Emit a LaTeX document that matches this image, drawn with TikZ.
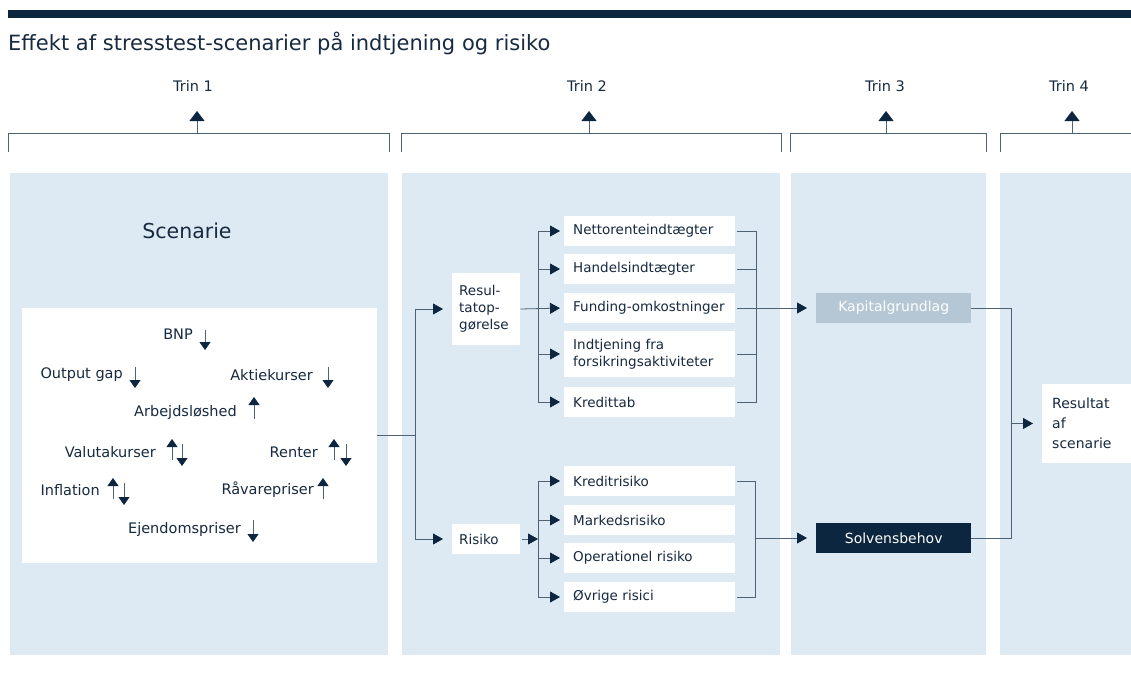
\documentclass[tikz,border=0pt]{standalone}
\usepackage{fontspec}
\setmainfont{DejaVu Sans}
\usetikzlibrary{arrows.meta}
\definecolor{navy}{HTML}{0C2640}
\definecolor{txt}{HTML}{172A40}
\definecolor{panel}{HTML}{DEEAF3}
\definecolor{linec}{HTML}{4E6276}
\definecolor{kapc}{HTML}{B5C7D5}
\begin{document}
\begin{tikzpicture}[x=1pt,y=-1pt,
  line/.style={draw=linec, line width=0.8pt},
  arr/.style={line, -{Triangle[length=10pt,width=11pt,color=navy]}},
  trinarr/.style={line, -{Triangle[length=10pt,width=15pt,color=navy]}},
  glyph/.style={line, -{Triangle[length=8pt,width=11pt,color=navy]}},
  lbl/.style={font=\fontsize{14.5}{17}\selectfont, text=txt, inner sep=0},
  sitem/.style={font=\fontsize{14.5}{17}\selectfont, text=txt, inner sep=0, anchor=east},
  box/.style={fill=white, font=\fontsize{13.5}{17}\selectfont, text=txt, inner ysep=0, inner xsep=9pt, minimum height=30pt, align=left, anchor=west},
  ibox/.style={box, text width=153pt},
  sbox/.style={box, inner xsep=7pt, text width=54pt},
  dbox/.style={fill=#1, font=\fontsize{14}{17}\selectfont, text=white, inner sep=0, minimum width=155pt, minimum height=30pt, anchor=west},
  panelbox/.style={fill=panel, draw=none},
  bracket/.style={line}
]
\useasboundingbox (0,0) rectangle (1131,690);
\fill[navy] (8,10) rectangle (1131,18);
\node[anchor=west, font=\fontsize{21}{25}\selectfont, text=txt, inner sep=0] (title) at (8,43) {Effekt af stresstest-scenarier på indtjening og risiko};

% step labels
\node[lbl] (t1) at (193,86) {Trin 1};
\node[lbl] (t2) at (587,86) {Trin 2};
\node[lbl] (t3) at (885,86) {Trin 3};
\node[lbl] (t4) at (1069,86) {Trin 4};

% brackets
\draw[bracket] (8,152) -- (8,133) -- (389,133) -- (389,152);
\draw[bracket] (401,152) -- (401,133) -- (781,133) -- (781,152);
\draw[bracket] (790,152) -- (790,133) -- (986,133) -- (986,152);
\draw[bracket] (1000,152) -- (1000,133) -- (1131,133);
\coordinate (b1) at (197,133);
\coordinate (b2) at (589,133);
\coordinate (b3) at (886,133);
\coordinate (b4) at (1072,133);
\draw[trinarr] (b1) -- ++(0,-22);
\draw[trinarr] (b2) -- ++(0,-22);
\draw[trinarr] (b3) -- ++(0,-22);
\draw[trinarr] (b4) -- ++(0,-22);

% panels
\fill[panelbox] (10,173) rectangle (388,655);
\fill[panelbox] (402,173) rectangle (780,655);
\fill[panelbox] (791,173) rectangle (986,655);
\fill[panelbox] (1000,173) rectangle (1131,655);

% scenario
\node[font=\fontsize{20.5}{24}\selectfont, text=txt, inner sep=0] (scentitle) at (187,231) {Scenarie};
\node[fill=white, minimum width=355pt, minimum height=255pt, inner sep=0] (scen) at (199.5,435.5) {};

\node[sitem] (bnp) at (193,334) {BNP};
\node[sitem] (og) at (123,375) {Output gap};
\node[sitem] (ak) at (313,375) {Aktiekurser};
\node[sitem] (arb) at (237,412) {Arbejdsløshed};
\node[sitem] (val) at (156,452) {Valutakurser};
\node[sitem] (ren) at (318,452) {Renter};
\node[sitem] (inf) at (100,490) {Inflation};
\node[sitem] (rav) at (314,490) {Råvarepriser};
\node[sitem] (ejd) at (241,529) {Ejendomspriser};

% up / down glyphs
\draw[glyph] (205,330) -- (205,350);
\draw[glyph] (135,367) -- (135,388);
\draw[glyph] (328,367) -- (328,388);
\draw[glyph] (254,419) -- (254,397);
\draw[glyph] (172,460) -- (172,439);
\draw[glyph] (182,444) -- (182,466);
\draw[glyph] (334,460) -- (334,439);
\draw[glyph] (346,444) -- (346,466);
\draw[glyph] (113,499) -- (113,478);
\draw[glyph] (124,483) -- (124,505);
\draw[glyph] (323,499) -- (323,478);
\draw[glyph] (253,520) -- (253,542);

% step 2 boxes
\node[sbox, minimum height=72pt] (res) at (452,309) {Resul-\\tatop-\\gørelse};
\node[sbox] (ris) at (452,539) {Risiko};

\node[ibox] (i1) at (564,231) {Nettorenteindtægter};
\node[ibox] (i2) at (564,269) {Handelsindtægter};
\node[ibox] (i3) at (564,308) {Funding-omkostninger};
\node[ibox, minimum height=46pt] (i4) at (564,354) {Indtjening fra\\forsikringsaktiviteter};
\node[ibox] (i5) at (564,402) {Kredittab};

\node[ibox] (r1) at (564,481) {Kreditrisiko};
\node[ibox] (r2) at (564,520) {Markedsrisiko};
\node[ibox] (r3) at (564,558) {Operationel risiko};
\node[ibox] (r4) at (564,597) {Øvrige risici};

% step 3 boxes
\node[dbox=kapc] (kap) at (816,308) {Kapitalgrundlag};
\node[dbox=navy] (solv) at (816,538) {Solvensbehov};

% step 4 box
\node[box, font=\fontsize{14}{20}\selectfont, inner xsep=10pt, text width=69pt, minimum height=79pt] (resb) at (1042,423.5) {Resultat\\af\\scenarie};

% connectors
\coordinate (j1) at (415,435.5);
\draw[line] (scen.east) -- (j1);
\draw[arr, shorten >=9pt] (j1) |- (res.west);
\draw[arr, shorten >=9pt] (j1) |- (ris.west);

\coordinate (j2) at (538,309);
\draw[arr, shorten >=4pt] (res.east) -- (i3.west);
\draw[arr, shorten >=4pt] (j2) |- (i1.west);
\draw[arr, shorten >=4pt] (j2) |- (i2.west);
\draw[arr, shorten >=4pt] (j2) |- (i4.west);
\draw[arr, shorten >=4pt] (j2) |- (i5.west);

\coordinate (j3) at (538,539);
\draw[arr, shorten <=2pt] (ris.east) -- (j3);
\draw[arr, shorten >=4pt] (j3) |- (r1.west);
\draw[arr, shorten >=4pt] (j3) |- (r2.west);
\draw[arr, shorten >=4pt] (j3) |- (r3.west);
\draw[arr, shorten >=4pt] (j3) |- (r4.west);

\coordinate (j4) at (756,308);
\draw[line, shorten <=2pt] (i1.east) -| (j4);
\draw[line, shorten <=2pt] (i2.east) -| (j4);
\draw[line, shorten <=2pt] (i4.east) -| (j4);
\draw[line, shorten <=2pt] (i5.east) -| (j4);
\draw[arr, shorten <=2pt, shorten >=9pt] (i3.east) -- (kap.west);

\coordinate (j5) at (755,538);
\draw[line, shorten <=2pt] (r1.east) -| (j5);
\draw[line, shorten <=2pt] (r4.east) -| (j5);
\draw[arr, shorten >=9pt] (j5) -- (solv.west);

\coordinate (j6) at (1011,423.5);
\draw[line] (kap.east) -| (j6);
\draw[line] (solv.east) -| (j6);
\draw[arr, shorten >=9pt] (j6) -- (resb.west);
\end{tikzpicture}
\end{document}
